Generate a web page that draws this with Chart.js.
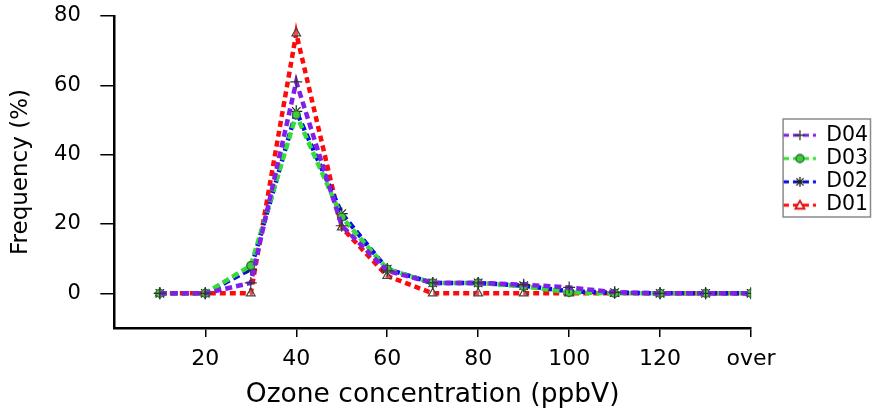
<!DOCTYPE html>
<html>
<head>
<meta charset="utf-8">
<script src="https://cdn.jsdelivr.net/npm/chart.js@4/dist/chart.umd.min.js"></script>
<style>
  html, body { margin: 0; padding: 0; background: #fff; }
  #wrap { width: 875px; height: 412px; position: relative; }
</style>
</head>
<body>
<div id="wrap"><canvas id="c" width="875" height="412"></canvas></div>
<script>
// ---- data ----
const ozoneBins = [10, 20, 30, 40, 50, 60, 70, 80, 90, 100, 110, 120, 130, 140];
const xTickValues = [20, 40, 60, 80, 100, 120, 140];
const xTickLabels = ['20', '40', '60', '80', '100', '120', 'over'];
const yTickValues = [0, 20, 40, 60, 80];
const seriesNames = ['D04', 'D03', 'D02', 'D01'];
const d04 = [0, 0, 3, 61, 19.5, 6.5, 3, 3, 2.5, 1.7, 0.3, 0, 0, 0];
const d03 = [0, 0, 8, 51.5, 22, 7, 3, 3, 2, 0.3, 0, 0, 0, 0];
const d02 = [0, 0, 7, 52.5, 23, 7, 3, 3, 2.2, 0.6, 0.2, 0, 0, 0];
const d01 = [0, 0, 0, 75, 19, 5, 0, 0, 0, 0, 0, 0, 0, 0];

// ---- styles ----
const lineColors = ['#7f1fe8', '#33dd33', '#0a0aee', '#ff0a0a'];
const pointStyles = ['cross', 'circle', 'star', 'triangle'];
const pointFills = ['rgba(0,0,0,0)', '#3ccc3c', 'rgba(0,0,0,0)', 'rgba(255,255,255,0.25)'];
const pointBorders = ['#333', '#2f6a2f', '#222', '#444'];
const pointRadii = [6, 4, 6, 5];
const dashes = [[7, 4], [7, 4], [7, 4], [6, 4]];

Chart.defaults.font.family = 'DejaVu Sans';
Chart.defaults.color = '#000';

const allSeries = [d04, d03, d02, d01];
const LEGEND_PAD = 2.8;
const LEGEND_TOP = 125;
const LEGEND_BOXW = 62;

function legendImage(i) {
  const cv = document.createElement('canvas');
  cv.width = 74; cv.height = 20;
  const g = cv.getContext('2d');
  g.strokeStyle = lineColors[i];
  g.lineWidth = 3;
  g.setLineDash([6, 4]);
  g.beginPath(); g.moveTo(35, 10); g.lineTo(68, 10); g.stroke();
  g.setLineDash([]);
  const cx = 52, cy = 10;
  g.lineWidth = 1.3;
  if (i === 0) {
    g.strokeStyle = '#333';
    g.beginPath(); g.moveTo(cx - 5, cy); g.lineTo(cx + 5, cy); g.moveTo(cx, cy - 5); g.lineTo(cx, cy + 5); g.stroke();
  } else if (i === 1) {
    g.fillStyle = '#3ccc3c'; g.strokeStyle = '#2f6a2f';
    g.beginPath(); g.arc(cx, cy, 4, 0, Math.PI * 2); g.fill(); g.stroke();
  } else if (i === 2) {
    g.strokeStyle = '#222';
    g.beginPath();
    g.moveTo(cx - 5, cy); g.lineTo(cx + 5, cy);
    g.moveTo(cx, cy - 5); g.lineTo(cx, cy + 5);
    g.moveTo(cx - 3.6, cy - 3.6); g.lineTo(cx + 3.6, cy + 3.6);
    g.moveTo(cx - 3.6, cy + 3.6); g.lineTo(cx + 3.6, cy - 3.6);
    g.stroke();
  } else {
    g.fillStyle = '#fff'; g.strokeStyle = '#e01010';
    g.lineWidth = 1.8;
    g.beginPath(); g.moveTo(cx, cy - 4.5); g.lineTo(cx + 4.5, cy + 3.5); g.lineTo(cx - 4.5, cy + 3.5); g.closePath();
    g.fill(); g.stroke();
  }
  return cv;
}

const legendShiftPlugin = {
  id: 'legendShift',
  afterLayout(chart) {
    const lg = chart.legend;
    if (!lg || !lg.columnSizes || !lg.columnSizes.length) return;
    const colH = lg.columnSizes[0].height;
    const y0 = (lg.top + LEGEND_PAD + lg.bottom - colH) / 2;
    const dy = y0 - LEGEND_TOP;
    lg.top -= dy; lg.bottom -= dy;
  }
};

const legendBoxPlugin = {
  id: 'legendBox',
  afterDraw(chart) {
    const lg = chart.legend;
    if (!lg || !lg.legendHitBoxes || !lg.legendHitBoxes.length) return;
    const hb = lg.legendHitBoxes;
    const first = hb[0], last = hb[hb.length - 1];
    const ctx = chart.ctx;
    ctx.save();
    ctx.strokeStyle = '#8a8a8a';
    ctx.lineWidth = 1.5;
    const left = chart.chartArea.right + 32;
    const right = 870.5;
    const top = first.top - 6;
    const bottom = last.top + last.height + 1.6;
    ctx.strokeRect(left, top, right - left, bottom - top);
    ctx.restore();
  }
};

const datasets = allSeries.map((arr, i) => ({
  label: seriesNames[i],
  data: ozoneBins.map((x, k) => ({ x: x, y: arr[k] })),
  borderColor: lineColors[i],
  borderWidth: 4.5,
  borderDash: dashes[i],
  borderCapStyle: 'butt',
  fill: false,
  tension: 0,
  pointStyle: pointStyles[i],
  pointRadius: pointRadii[i],
  pointBackgroundColor: pointFills[i],
  pointBorderColor: pointBorders[i],
  pointBorderWidth: 1.2
}));

new Chart(document.getElementById('c'), {
  type: 'line',
  data: { datasets: datasets },
  plugins: [legendShiftPlugin, legendBoxPlugin],
  options: {
    responsive: false,
    animation: false,
    events: [],
    layout: { padding: { top: 16, left: 0, right: -3, bottom: 0 } },
    plugins: {
      tooltip: { enabled: false },
      legend: {
        position: 'right',
        fullSize: false,
        labels: {
          usePointStyle: true,
          pointStyleWidth: LEGEND_BOXW,
          padding: LEGEND_PAD,
          font: { size: 20.5 },
          color: '#000',
          generateLabels(chart) {
            return chart.data.datasets.map((ds, i) => ({
              text: ds.label,
              datasetIndex: i,
              pointStyle: legendImage(i),
              fillStyle: 'rgba(0,0,0,0)',
              strokeStyle: 'rgba(0,0,0,0)',
              lineWidth: 0,
              hidden: false,
              fontColor: '#000'
            }));
          }
        }
      }
    },
    scales: {
      x: {
        type: 'linear',
        min: 0,
        max: 140,
        afterBuildTicks(scale) { scale.ticks = xTickValues.map(v => ({ value: v })); },
        ticks: {
          autoSkip: false,
          maxRotation: 0,
          padding: 9,
          font: { size: 22 },
          color: '#000',
          callback(v) { const k = xTickValues.indexOf(v); return k >= 0 ? xTickLabels[k] : ''; }
        },
        grid: { display: true, drawOnChartArea: false, drawTicks: true, tickLength: 9, color: '#000', lineWidth: 1.5 },
        border: { display: true, color: '#000', width: 2.5 },
        title: { display: true, text: 'Ozone concentration (ppbV)', font: { size: 26.5, lineHeight: 1.0 }, color: '#000', padding: { top: 0, bottom: 4.1 } }
      },
      y: {
        type: 'linear',
        min: -10,
        max: 80,
        afterBuildTicks(scale) { scale.ticks = yTickValues.map(v => ({ value: v })); },
        afterFit(scale) { scale.paddingTop = 0; scale.paddingBottom = 0; },
        ticks: { padding: 19.5, font: { size: 21 }, color: '#000', callback(v) { return String(v); } },
        grid: { display: true, drawOnChartArea: false, drawTicks: true, tickLength: 14, color: '#000', lineWidth: 1.5 },
        border: { display: true, color: '#000', width: 2.5 },
        title: { display: true, text: 'Frequency (%)', font: { size: 23 }, color: '#000', padding: { top: 7, bottom: 0 } }
      }
    }
  }
});
</script>
</body>
</html>
